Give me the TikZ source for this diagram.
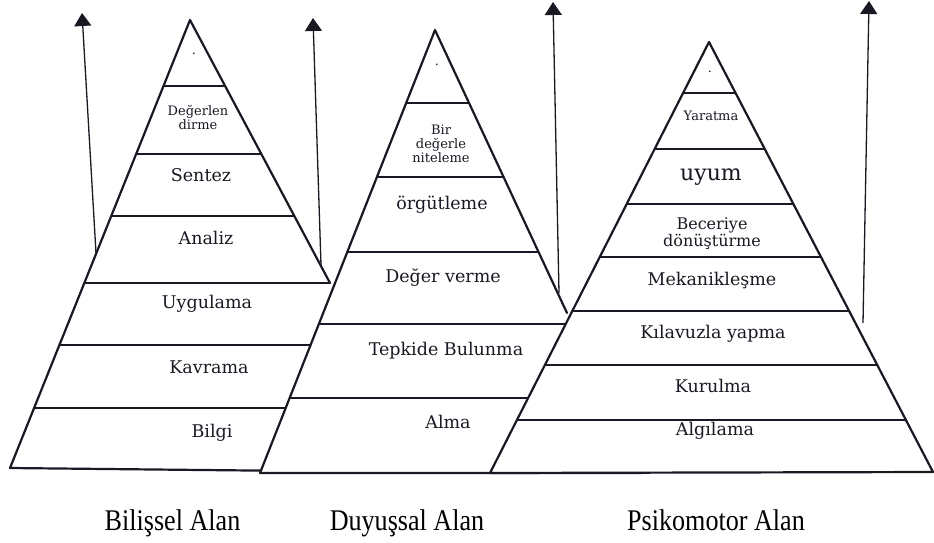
\documentclass[tikz,border=0pt]{standalone}
\usepackage{fontspec}
\newfontfamily\lblfont{DejaVu Serif}
\newfontfamily\capfont[FakeStretch=0.87]{Liberation Serif}
\usetikzlibrary{arrows.meta,calc}
\definecolor{ink}{RGB}{25,25,35}
\begin{document}
\begin{tikzpicture}[x=1pt,y=-1pt,
  edge/.style={draw=ink, line width=2.2pt, line join=round, line cap=round},
  layer/.style={draw=ink, line width=1.9pt},
  uparrow/.style={draw=ink, line width=1.3pt, -{Triangle[width=17pt,length=13pt]}},
  lbl/.style={font=\lblfont\fontsize{17.5}{20}\selectfont, text=ink, inner sep=0pt, anchor=base},
  small/.style={font=\lblfont\fontsize{13}{14}\selectfont, text=ink, inner sep=0pt, align=center},
  caption/.style={font=\capfont\fontsize{30}{32}\selectfont, text=black, inner sep=0pt, anchor=base}]
\useasboundingbox[fill=white] (0,0) rectangle (934,542);

% ---------- Pyramid 1 (Bilişsel) ----------
\coordinate (A1) at (190,20);
\coordinate (L1) at (10,468);
\coordinate (R1) at (330,283);
\coordinate (E1) at ($(A1)!1.72!(R1)$);
\begin{scope}
  \clip (A1) -- (L1) -- (E1) -- cycle;
  \foreach \yy in {86,154,216,283,345,408} \draw[layer] (0,\yy) -- (934,\yy);
\end{scope}
\draw[edge] (L1) -- (A1) -- (R1);
\draw[edge] (L1) -- (E1);
\node[small, anchor=base] (p1d) at (194,54) {.};
\node[small] (p1a) at (198,117) {Değerlen\\dirme};
\node[lbl] (p1b) at (201,181) {Sentez};
\node[lbl] (p1c) at (206,244) {Analiz};
\node[lbl] (p1e) at (207,308) {Uygulama};
\node[lbl] (p1f) at (209,373) {Kavrama};
\node[lbl] (p1g) at (212,437) {Bilgi};

% ---------- Pyramid 2 (Duyuşsal) ----------
\coordinate (A2) at (435,30);
\coordinate (L2) at (260,473);
\coordinate (R2) at (567,313);
\coordinate (E2) at ($(A2)!1.565!(R2)$);
\fill[white] (A2) -- (L2) -- (E2) -- cycle;
\begin{scope}
  \clip (A2) -- (L2) -- (E2) -- cycle;
  \foreach \yy in {103,177,252,324,398} \draw[layer] (0,\yy) -- (934,\yy);
\end{scope}
\draw[edge] (L2) -- (A2) -- (R2);
\draw[edge] (L2) -- (E2);
\node[small, anchor=base] (p2d) at (437,65) {.};
\node[small] (p2a) at (441,144) {Bir\\değerle\\niteleme};
\node[lbl] (p2b) at (442,209) {örgütleme};
\node[lbl] (p2c) at (443,282) {Değer verme};
\node[lbl] (p2e) at (446,355) {Tepkide Bulunma};
\node[lbl] (p2f) at (448,428) {Alma};

% ---------- Pyramid 3 (Psikomotor) ----------
\coordinate (A3) at (709,42);
\coordinate (L3) at (490,473);
\coordinate (R3) at (933,472);
\fill[white] (A3) -- (L3) -- (R3) -- cycle;
\begin{scope}
  \clip (A3) -- (L3) -- (R3) -- cycle;
  \foreach \yy in {93,149,204,257,311,365,420} \draw[layer] (0,\yy) -- (934,\yy);
\end{scope}
\draw[edge] (A3) -- (L3) -- (R3) -- cycle;
\node[small, anchor=base] (p3d) at (710,72) {.};
\node[small, anchor=base] (p3a) at (711,120) {Yaratma};
\node[lbl, font=\lblfont\fontsize{22}{24}\selectfont] (p3b) at (711,180) {uyum};
\node[small, font=\lblfont\fontsize{16}{15}\selectfont] (p3c) at (712,234) {Beceriye\\dönüştürme};
\node[lbl] (p3e) at (712,285) {Mekanikleşme};
\node[lbl] (p3f) at (713,338) {Kılavuzla yapma};
\node[lbl] (p3g) at (713,392) {Kurulma};
\node[lbl] (p3h) at (715,435) {Algılama};

% ---------- Arrows ----------
\coordinate (a1s) at (96,253);  \coordinate (a1t) at (82,13);
\coordinate (b1s) at (321,265); \coordinate (b1t) at (313,18);
\coordinate (a2s) at (559,293); \coordinate (a2t) at (553,2);
\coordinate (a3s) at (863,323); \coordinate (a3t) at (869,1);
\draw[uparrow] (a1s) -- (a1t);
\draw[uparrow] (b1s) -- (b1t);
\draw[uparrow] (a2s) -- (a2t);
\draw[uparrow] (a3s) -- (a3t);

% ---------- Captions ----------
\node[caption] (c1) at (172.5,530) {Bilişsel Alan};
\node[caption] (c2) at (407,530) {Duyuşsal Alan};
\node[caption] (c3) at (716,530) {Psikomotor Alan};
\end{tikzpicture}
\end{document}
